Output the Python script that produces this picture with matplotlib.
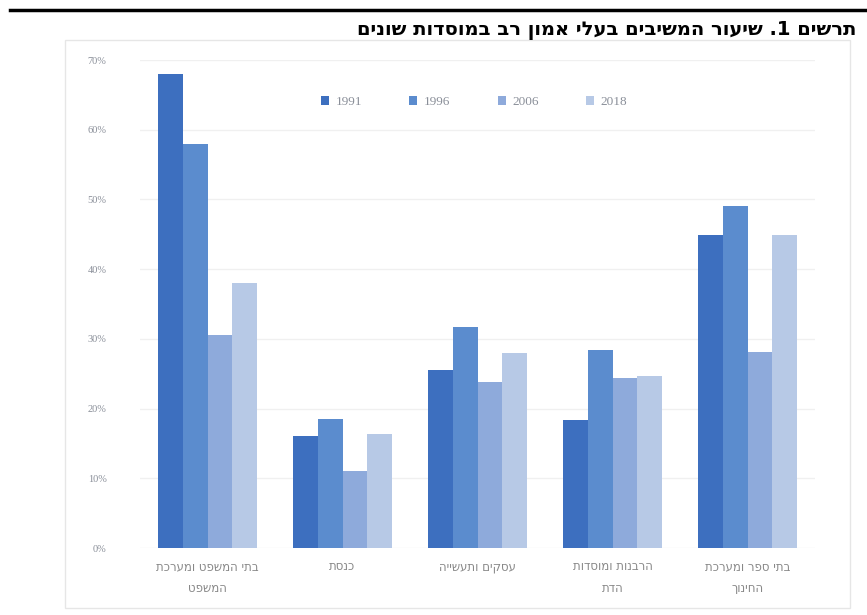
import numpy as np
import matplotlib.pyplot as plt
from matplotlib.patches import Rectangle
from matplotlib.lines import Line2D

# data
categories = ["בתי המשפט ומערכת\nהמשפט", "כנסת", "עסקים ותעשייה",
              "הרבנות ומוסדות\nהדת", "בתי ספר ומערכת\nהחינוך"]
years = ["1991", "1996", "2006", "2018"]
v1991 = [0.68, 0.16, 0.255, 0.184, 0.449]
v1996 = [0.58, 0.185, 0.317, 0.284, 0.49]
v2006 = [0.305, 0.11, 0.238, 0.244, 0.281]
v2018 = [0.38, 0.164, 0.28, 0.247, 0.449]
series = [v1991, v1996, v2006, v2018]
colors = ["#3d6fbf", "#5b8cce", "#8eaadb", "#b7c9e6"]
title = "תרשים 1. שיעור המשיבים בעלי אמון רב במוסדות שונים"


def heb(s):
    # matplotlib has no bidi, so flip each line by hand
    return "\n".join(line[::-1] for line in s.split("\n"))


fig = plt.figure(figsize=(8.67, 6.15), dpi=100)

# top rule and frame
fig.add_artist(Line2D([10 / 867, 1], [1 - 10 / 615] * 2, color="black", lw=2.5))
fig.add_artist(Rectangle((65 / 867, 1 - 608 / 615), 785 / 867, 568 / 615,
                         fill=False, ec="#e6e6e6", lw=1))
fig.text(856 / 867, 1 - 30 / 615, heb(title), ha="right", va="center",
         fontsize=14, fontweight="bold", family="DejaVu Sans")

ax = fig.add_axes([140 / 867, 1 - 548 / 615, 675 / 867, 488 / 615])
x = np.arange(len(categories))
w = 0.182
for i, (vals, c, y) in enumerate(zip(series, colors, years)):
    ax.bar(x + (i - 1.5) * w, vals, w, color=c, label=y, zorder=3)

ax.set_xlim(-0.5, 4.5)
ax.set_ylim(0, 0.70)
ax.set_yticks(np.arange(0, 0.71, 0.1))
ax.set_yticklabels([f"{int(round(t * 100))}%" for t in np.arange(0, 0.71, 0.1)],
                   fontsize=7.5, color="#8a8f99", family="Liberation Serif")
ax.yaxis.set_tick_params(length=0, pad=24)
ax.grid(axis="y", color="#f0f0f0", lw=1, zorder=0)
ax.set_xticks(x)
ax.set_xticklabels([heb(c) for c in categories], fontsize=8.5, color="#888888",
                   linespacing=1.9, family="DejaVu Sans")
ax.xaxis.set_tick_params(length=0, pad=9)
for s in ax.spines.values():
    s.set_visible(False)

leg = ax.legend(loc="upper center", bbox_to_anchor=(0.495, 0.95), ncol=4,
                frameon=False, handlelength=0.6, handleheight=0.6,
                columnspacing=3.6, handletextpad=0.5,
                prop={"family": "Liberation Serif", "size": 9.5})
for t in leg.get_texts():
    t.set_color("#8a8f99")

fig.savefig("out.png", dpi=100)
